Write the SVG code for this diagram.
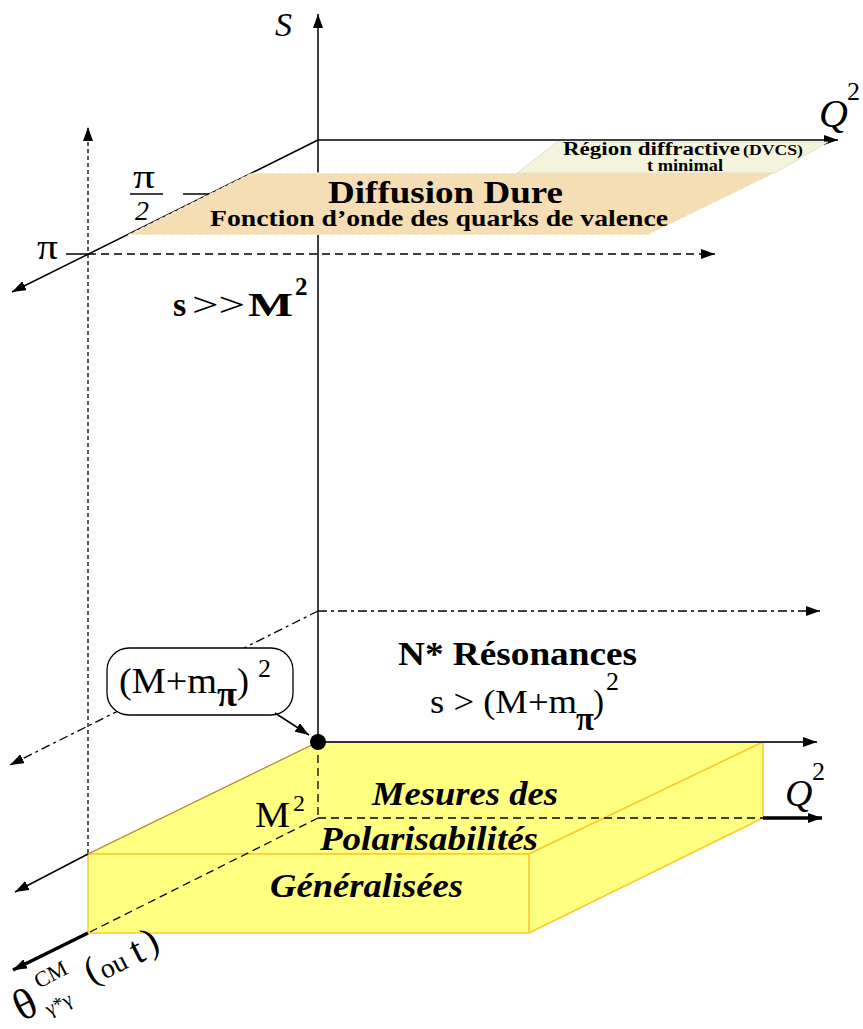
<svg xmlns="http://www.w3.org/2000/svg" width="863" height="1029" viewBox="0 0 863 1029">
<defs>
<marker id="ah" viewBox="0 0 14 10" markerWidth="14" markerHeight="10" refX="14" refY="5" markerUnits="userSpaceOnUse" orient="auto"><path d="M0,0 L14,5 L0,10 z" fill="#000"/></marker>
</defs>
<style>
.ax{stroke:#000;stroke-width:1.5;fill:none}
.dsh{stroke:#000;stroke-width:1.3;fill:none;stroke-dasharray:8 5}
.dot{stroke:#000;stroke-width:1.3;fill:none;stroke-dasharray:4 3}
.dd{stroke:#000;stroke-width:1.3;fill:none;stroke-dasharray:9 4 3 4}
.thk{stroke:#000;stroke-width:3.5;fill:none}
.face{fill:#FFFF80;stroke:#FFC830;stroke-width:1.5;stroke-linejoin:round}
text{font-family:"Liberation Serif","Times New Roman",serif;fill:#000}
.b{font-weight:bold}
.i{font-style:italic}
.bi{font-weight:bold;font-style:italic}
</style>
<rect width="863" height="1029" fill="#fff"/>
<g id="connectors">
<line class="ax" x1="318" y1="742" x2="318" y2="14" marker-end="url(#ah)"/>
<line class="ax" x1="318" y1="140" x2="838" y2="140" marker-end="url(#ah)"/>
<line class="ax" x1="318" y1="140" x2="12" y2="292" marker-end="url(#ah)"/>
<line class="ax" x1="66" y1="254" x2="88" y2="254"/>
<line class="ax" x1="183" y1="194" x2="210" y2="194"/>
<line class="dot" x1="88" y1="853" x2="88" y2="127" marker-end="url(#ah)"/>
<line class="dsh" x1="88" y1="254" x2="715" y2="254" marker-end="url(#ah)"/>
<line class="dd" x1="318" y1="611" x2="820" y2="611" marker-end="url(#ah)"/>
<line class="dd" x1="318" y1="611" x2="10" y2="765" marker-end="url(#ah)"/>
</g>
<g id="diffusion-dure">
<polygon points="128,235 252,173 775,173 648,235" fill="#F5DEB3" stroke="#fff" stroke-width="1" stroke-dasharray="4 3"/>
<text class="b" x="328" y="203" font-size="32" textLength="235" lengthAdjust="spacingAndGlyphs">Diffusion Dure</text>
<text class="b" x="210" y="226" font-size="24" textLength="458" lengthAdjust="spacingAndGlyphs">Fonction d’onde des quarks de valence</text>
</g>
<g id="region-diffractive">
<polygon points="517,173 557,142 828,142 775,173" fill="#F4F4DC" stroke="#d8d8d0" stroke-width="0.8"/>
<text class="b" x="563" y="155" font-size="18" textLength="177" lengthAdjust="spacingAndGlyphs">Région diffractive</text>
<text class="b" x="743" y="155" font-size="15" textLength="60" lengthAdjust="spacingAndGlyphs">(DVCS)</text>
<text class="b" x="647" y="171" font-size="16" textLength="76" lengthAdjust="spacingAndGlyphs">t minimal</text>
</g>
<g id="axis-labels">
<text class="i" x="275" y="36" font-size="34">S</text>
<text class="i" x="819" y="127" font-size="40">Q</text>
<text x="847" y="100" font-size="26">2</text>
<text x="37" y="259" font-size="36" textLength="21" lengthAdjust="spacingAndGlyphs">π</text>
<text x="133" y="188" font-size="34" textLength="22" lengthAdjust="spacingAndGlyphs">π</text>
<line class="ax" x1="130" y1="194" x2="163" y2="194"/>
<text class="i" x="135" y="220" font-size="28">2</text>
</g>
<g id="s-gg-m2">
<text class="b" x="173" y="316" font-size="34">s</text>
<text x="192" y="316" font-size="34" textLength="53" lengthAdjust="spacingAndGlyphs">&gt;&gt;</text>
<text class="b" x="248" y="316" font-size="34" textLength="45" lengthAdjust="spacingAndGlyphs">M</text>
<text class="b" x="295" y="295" font-size="25">2</text>
</g>
<g id="resonances">
<text class="b" x="398" y="665" font-size="33" textLength="239" lengthAdjust="spacingAndGlyphs">N* Résonances</text>
<text x="430" y="713" font-size="33" textLength="147" lengthAdjust="spacingAndGlyphs">s &gt; (M+m</text>
<text class="b" x="576" y="730" font-size="34" textLength="18" lengthAdjust="spacingAndGlyphs">π</text>
<text x="593" y="713" font-size="33">)</text>
<text x="606" y="690" font-size="26">2</text>
</g>
<g id="threshold-box">
<rect x="107" y="648" width="186" height="67" rx="22" fill="#fff" stroke="#000" stroke-width="1.3"/>
<text x="119" y="693" font-size="36" textLength="98" lengthAdjust="spacingAndGlyphs">(M+m</text>
<text class="b" x="217" y="706" font-size="36" textLength="20" lengthAdjust="spacingAndGlyphs">π</text>
<text x="237" y="693" font-size="36">)</text>
<text x="258" y="677" font-size="26">2</text>
<line class="ax" x1="275" y1="713" x2="309" y2="735" stroke-width="1.3" marker-end="url(#ah)"/>
</g>
<g id="polarisabilites-box">
<polygon class="face" points="318,742 763,742 529,854 88,854"/>
<polygon class="face" points="529,854 763,742 763,818 529,933"/>
<rect class="face" x="88" y="854" width="441" height="79"/>
<line class="dsh" x1="318" y1="742" x2="318" y2="818"/>
<line class="dsh" x1="318" y1="818" x2="763" y2="818"/>
<line class="dsh" x1="318" y1="818" x2="88" y2="933"/>
<line x1="318" y1="742" x2="88" y2="854" stroke="#777" stroke-width="0.8"/>
<line x1="318" y1="742" x2="817" y2="742" stroke="#333" stroke-width="2" marker-end="url(#ah)"/>
<line class="ax" x1="88" y1="854" x2="15" y2="892" stroke-width="1.3" marker-end="url(#ah)"/>
<line class="thk" x1="763" y1="818" x2="822" y2="818" marker-end="url(#ah)"/>
<line class="thk" x1="88" y1="933" x2="13" y2="970" marker-end="url(#ah)"/>
<circle cx="318" cy="742" r="8" fill="#000"/>
<text class="bi" x="372" y="805" font-size="33" textLength="186" lengthAdjust="spacingAndGlyphs">Mesures des</text>
<text class="bi" x="320" y="850" font-size="33" textLength="218" lengthAdjust="spacingAndGlyphs">Polarisabilités</text>
<text class="bi" x="270" y="897" font-size="33" textLength="193" lengthAdjust="spacingAndGlyphs">Généralisées</text>
<text x="255" y="827" font-size="36" textLength="35" lengthAdjust="spacingAndGlyphs">M</text>
<text x="293" y="811" font-size="24">2</text>
<text class="i" x="785" y="806" font-size="38">Q</text>
<text x="812" y="780" font-size="26">2</text>
</g>
<g id="theta-label" transform="translate(22,1022) rotate(-27)">
<text x="0" y="0" font-size="44">θ</text>
<text x="30" y="-22" font-size="22">CM</text>
<text x="27" y="7" font-size="20">γ*γ</text>
<text x="79" y="-2" font-size="38">(</text>
<text x="93" y="0" font-size="28">ou</text>
<text x="129" y="1" font-size="40">t</text>
<text x="145" y="-2" font-size="38">)</text>
</g>
</svg>
